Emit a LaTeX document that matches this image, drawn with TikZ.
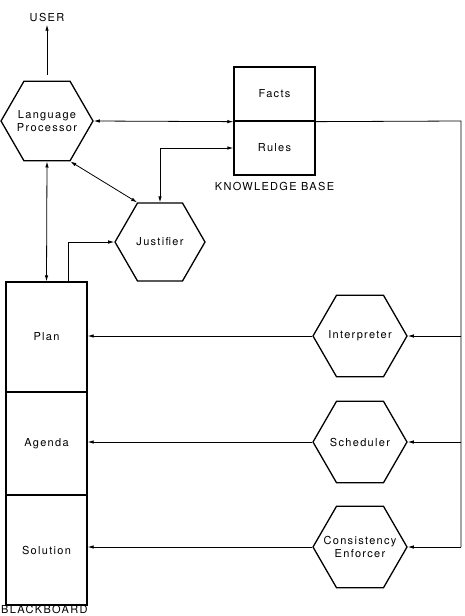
\documentclass[tikz,border=0pt]{standalone}
\usepackage{fontspec}
\setmainfont[LetterSpace=12]{TeX Gyre Heros}
\usepackage{tikz}
\usetikzlibrary{shapes.geometric,arrows.meta}
\tikzset{
  hexa/.style={draw, line width=1.3pt, regular polygon, regular polygon sides=6,
    minimum size=92pt, inner sep=0pt, label={[align=center]center:#1}},
  bbox/.style={draw, line width=1.3pt, minimum width=81pt, inner sep=0pt},
  link/.style={line width=0.8pt}
}

\begin{document}
\begin{tikzpicture}[x=1pt, y=-1pt, >={Latex[length=6pt,width=3.5pt]},
    font=\fontsize{11}{13}\selectfont]
    \useasboundingbox (0,0) rectangle (464,616);
    % knowledge base side
    \node[hexa={Language\\Processor}] (lang) at (47,121) {};
    \node (user) at (47,17) {USER};
    \node[bbox, minimum height=54pt] (facts) at (274.5,94) {Facts};
    \node[bbox, minimum height=54pt] (rules) at (274.5,148) {Rules};
    \node[below=3pt] (kbase) at (rules.south) {KNOWLEDGE BASE};
    \node[hexa=Justifier, minimum size=90pt] (just) at (160,242) {};
    % blackboard
    \node[bbox, minimum height=110pt] (plan) at (46.5,337) {Plan};
    \node[bbox, minimum height=103pt] (agenda) at (46.5,443.5) {Agenda};
    \node[bbox, minimum height=110pt] (solution) at (46.5,550) {Solution};
    \node[anchor=base west, inner sep=0pt] (bboard) at (1,613) {BLACKBOARD};
    \node[hexa=Interpreter, minimum size=94pt] (interp) at (360,336) {};
    \node[hexa=Scheduler, minimum size=94pt] (sched) at (360,442) {};
    \node[hexa={Consistency\\Enforcer}, minimum size=94pt] (cons) at (360,547) {};
    \coordinate (bus) at (461,121);

    \draw[link,->,shorten <=6pt] (lang.north) -- (user.south);
    \draw[link,<->] (lang.east) -- (facts.south west);
    \draw[link] (facts.south east) -- (bus) -- (bus |- cons.east);
    \foreach \h in {interp,sched,cons}
        \draw[link,->] (bus |- \h.east) -- (\h.east);
    \draw[link,<->] (rules.west) -| (just.north);
    \draw[link,<->] (lang.-60) -- (just.120);
    \draw[link,<->] (lang.south) -- (plan.north);
    \draw[link,->] ([xshift=21.5pt]plan.north) |- (just.west);
    \draw[link,->] (interp.west) -- (interp.west -| plan.east);
    \draw[link,->] (sched.west) -- (sched.west -| agenda.east);
    \draw[link,->] (cons.west) -- (cons.west -| solution.east);
\end{tikzpicture}
\end{document}
